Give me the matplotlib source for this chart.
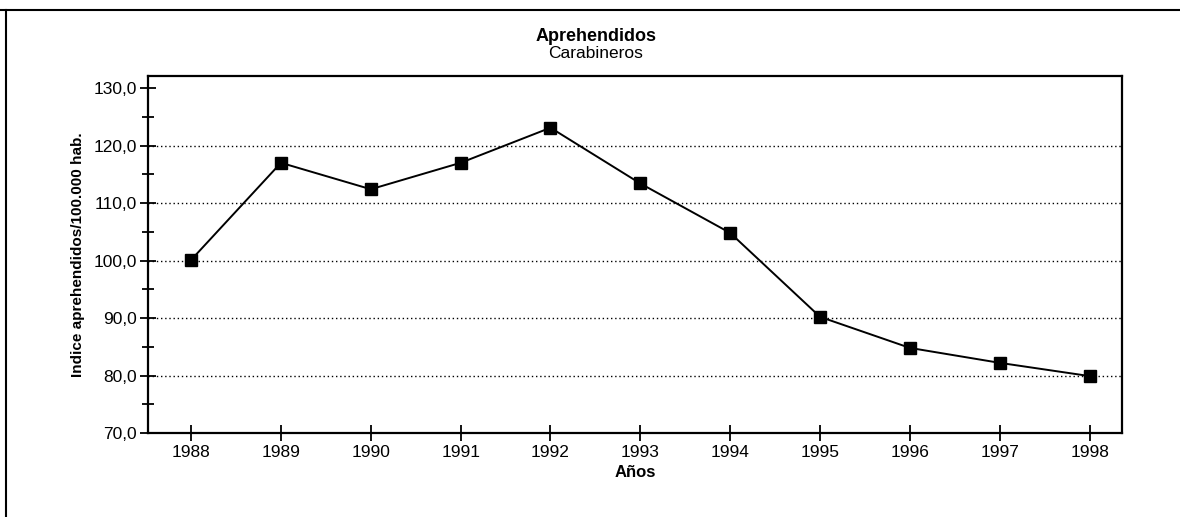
import numpy as np
import matplotlib.pyplot as plt
from matplotlib.lines import Line2D
from matplotlib.ticker import MultipleLocator, FuncFormatter

plt.rcParams['font.family'] = ['Liberation Sans', 'DejaVu Sans']

years = [1988, 1989, 1990, 1991, 1992, 1993, 1994, 1995, 1996, 1997, 1998]
indice = [100.1, 117.0, 112.4, 117.0, 123.1, 113.4, 104.8, 90.2, 84.8, 82.2, 79.9]

fig = plt.figure(figsize=(11.8, 5.17), dpi=100)
ax = fig.add_axes([0.1254, 0.1625, 0.8254, 0.6905])

# frame lines of the original panel
fig.add_artist(Line2D([0, 1], [0.981, 0.981], color='black', lw=1.5))
fig.add_artist(Line2D([0.0051, 0.0051], [0, 0.981], color='black', lw=1.5))

ax.plot(years, indice, color='black', lw=1.4, marker='s', ms=8.8,
        markerfacecolor='black', markeredgecolor='black', zorder=3)

ax.set_xlim(1987.52, 1998.36)
ax.set_ylim(70, 132.1)
ax.set_xticks(years)
ax.yaxis.set_major_locator(MultipleLocator(10))
ax.yaxis.set_minor_locator(MultipleLocator(5))
ax.yaxis.set_major_formatter(FuncFormatter(lambda v, p: f"{v:.1f}".replace('.', ',')))

for y in [80, 90, 100, 110, 120]:
    ax.axhline(y, color='black', lw=1.0, linestyle=(0, (1, 2)), zorder=1)

ax.tick_params(axis='both', which='major', direction='inout', length=12, width=1.3,
               labelsize=12.5, pad=2)
ax.tick_params(axis='x', which='major', pad=3)
ax.tick_params(axis='y', which='minor', direction='inout', length=8, width=1.3)
for s in ax.spines.values():
    s.set_linewidth(1.6)

ax.set_xlabel('Años', fontsize=12, fontweight='bold', labelpad=3)
ax.set_ylabel('Indice aprehendidos/100.000 hab.', fontsize=11, fontweight='bold', labelpad=6)

fig.text(0.505, 0.930, 'Aprehendidos', ha='center', va='center', fontsize=13, fontweight='bold')
fig.text(0.505, 0.897, 'Carabineros', ha='center', va='center', fontsize=12.5)

fig.savefig('out.png', dpi=100)
